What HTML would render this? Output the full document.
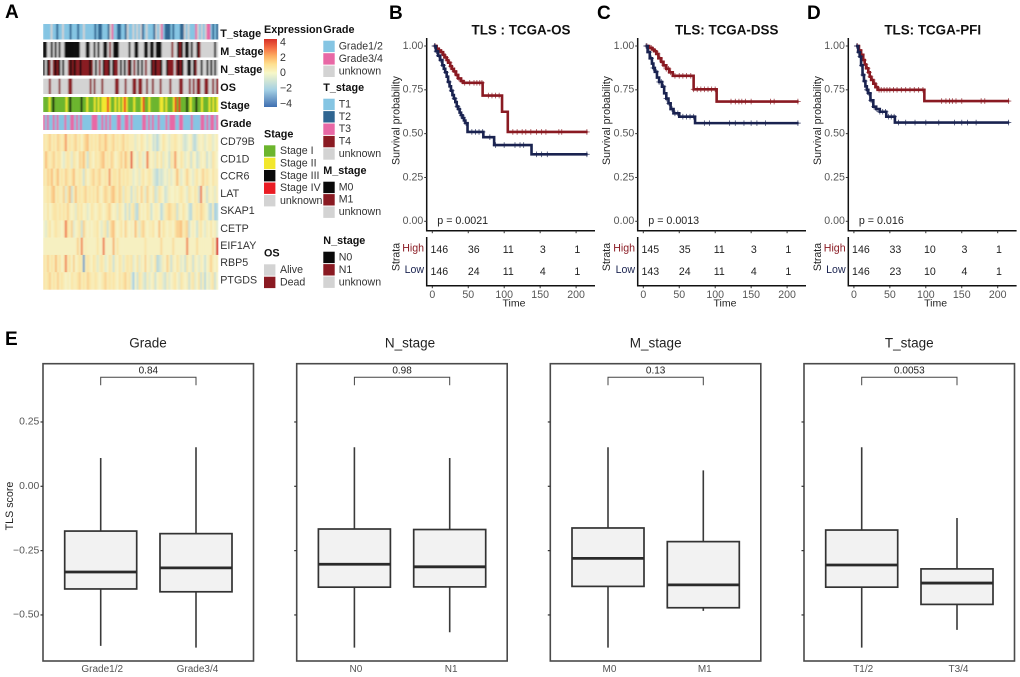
<!DOCTYPE html>
<html lang="en">
<head>
<meta charset="utf-8">
<title>TLS score figure</title>
<style>
html,body{margin:0;padding:0;background:#fff;}
svg{display:block;font-family:"Liberation Sans",sans-serif;}
.leg{font-size:10.6px;fill:#333;dominant-baseline:middle;}
.legt{font-size:10.8px;font-weight:bold;fill:#111;dominant-baseline:middle;}
.trk{font-size:10.8px;font-weight:bold;fill:#111;dominant-baseline:middle;}
.gene{font-size:10.7px;fill:#333;dominant-baseline:middle;}
.pl{font-size:19px;font-weight:bold;fill:#000;dominant-baseline:middle;}
</style>
</head>
<body>
<svg id="fig" xmlns="http://www.w3.org/2000/svg" width="1020" height="677" viewBox="0 0 1020 677">
<defs>
<filter id="soft" x="0" y="0" width="1" height="1"><feGaussianBlur stdDeviation="0.85 0"/></filter>
<linearGradient id="exprGrad" x1="0" y1="0" x2="0" y2="1">
<stop offset="0" stop-color="#d73027"/><stop offset="0.13" stop-color="#f46d43"/><stop offset="0.25" stop-color="#fdae61"/><stop offset="0.37" stop-color="#fee090"/><stop offset="0.5" stop-color="#f7f7c8"/><stop offset="0.75" stop-color="#a4d0e4"/><stop offset="1" stop-color="#3f6fb0"/>
</linearGradient>
</defs>
<rect width="1020" height="677" fill="#fff"/>

<text class="pl" x="5" y="13">A</text>
<text class="pl" x="389" y="14">B</text>
<text class="pl" x="597" y="14">C</text>
<text class="pl" x="807" y="14">D</text>
<text class="pl" x="5" y="340">E</text>

<g id="heatStrips" filter="url(#soft)"></g>

<g>
<text class="trk" x="220.3" y="34">T_stage</text>
<text class="trk" x="220.3" y="52">M_stage</text>
<text class="trk" x="220.3" y="70">N_stage</text>
<text class="trk" x="220.3" y="88">OS</text>
<text class="trk" x="220.3" y="106">Stage</text>
<text class="trk" x="220.3" y="124">Grade</text>
</g>
<g>
<text class="gene" x="220.3" y="142.3">CD79B</text>
<text class="gene" x="220.3" y="159.7">CD1D</text>
<text class="gene" x="220.3" y="176.7">CCR6</text>
<text class="gene" x="220.3" y="194">LAT</text>
<text class="gene" x="220.3" y="211.3">SKAP1</text>
<text class="gene" x="220.3" y="229">CETP</text>
<text class="gene" x="220.3" y="246">EIF1AY</text>
<text class="gene" x="220.3" y="263.3">RBP5</text>
<text class="gene" x="220.3" y="280.7">PTGDS</text>
</g>

<g>
<text class="legt" x="264" y="30">Expression</text>
<rect x="264" y="39" width="13" height="68" fill="url(#exprGrad)"/>
<text class="leg" x="280" y="42.7">4</text>
<text class="leg" x="280" y="58">2</text>
<text class="leg" x="280" y="73">0</text>
<text class="leg" x="280" y="88.7">−2</text>
<text class="leg" x="280" y="104">−4</text>
</g>

<g>
<text class="legt" x="323.3" y="30">Grade</text>
<rect x="323.3" y="40.7" width="11.4" height="11.4" fill="#85c5e3"/><text class="leg" x="338.7" y="46.7">Grade1/2</text>
<rect x="323.3" y="53.2" width="11.4" height="11.4" fill="#e868a5"/><text class="leg" x="338.7" y="59">Grade3/4</text>
<rect x="323.3" y="65.6" width="11.4" height="11.4" fill="#d3d3d3"/><text class="leg" x="338.7" y="71.5">unknown</text>
</g>
<g>
<text class="legt" x="323.3" y="88">T_stage</text>
<rect x="323.3" y="98.7" width="11.4" height="11.4" fill="#85c5e3"/><text class="leg" x="338.7" y="104.7">T1</text>
<rect x="323.3" y="111.1" width="11.4" height="11.4" fill="#2f6591"/><text class="leg" x="338.7" y="117">T2</text>
<rect x="323.3" y="123.5" width="11.4" height="11.4" fill="#e868a5"/><text class="leg" x="338.7" y="129.4">T3</text>
<rect x="323.3" y="135.9" width="11.4" height="11.4" fill="#8a1a22"/><text class="leg" x="338.7" y="141.8">T4</text>
<rect x="323.3" y="148.3" width="11.4" height="11.4" fill="#d3d3d3"/><text class="leg" x="338.7" y="154.2">unknown</text>
</g>
<g>
<text class="legt" x="323.3" y="171">M_stage</text>
<rect x="323.3" y="181.7" width="11.4" height="11.4" fill="#0a0a0a"/><text class="leg" x="338.7" y="187.5">M0</text>
<rect x="323.3" y="194.1" width="11.4" height="11.4" fill="#8a1a22"/><text class="leg" x="338.7" y="199.9">M1</text>
<rect x="323.3" y="206.5" width="11.4" height="11.4" fill="#d3d3d3"/><text class="leg" x="338.7" y="212.4">unknown</text>
</g>
<g>
<text class="legt" x="323.3" y="241.3">N_stage</text>
<rect x="323.3" y="251.7" width="11.4" height="11.4" fill="#0a0a0a"/><text class="leg" x="338.7" y="257.6">N0</text>
<rect x="323.3" y="264.1" width="11.4" height="11.4" fill="#8a1a22"/><text class="leg" x="338.7" y="270">N1</text>
<rect x="323.3" y="276.5" width="11.4" height="11.4" fill="#d3d3d3"/><text class="leg" x="338.7" y="282.5">unknown</text>
</g>
<g>
<text class="legt" x="264" y="134.7">Stage</text>
<rect x="264" y="145.3" width="11.4" height="11.4" fill="#6cb52d"/><text class="leg" x="280" y="151.2">Stage I</text>
<rect x="264" y="157.7" width="11.4" height="11.4" fill="#f2e72d"/><text class="leg" x="280" y="163.6">Stage II</text>
<rect x="264" y="170" width="11.4" height="11.4" fill="#0a0a0a"/><text class="leg" x="280" y="176">Stage III</text>
<rect x="264" y="182.5" width="11.4" height="11.4" fill="#ea1c24"/><text class="leg" x="280" y="188.4">Stage IV</text>
<rect x="264" y="195" width="11.4" height="11.4" fill="#d3d3d3"/><text class="leg" x="280" y="201">unknown</text>
</g>
<g>
<text class="legt" x="264" y="253.7">OS</text>
<rect x="264" y="264.3" width="11.4" height="11.4" fill="#d3d3d3"/><text class="leg" x="280" y="270.2">Alive</text>
<rect x="264" y="276.7" width="11.4" height="11.4" fill="#8a1a22"/><text class="leg" x="280" y="282.6">Dead</text>
</g>

<g id="kmRoot"></g>
<g id="boxRoot"></g>
</svg>

<script>
// ---------- Panel A: annotation tracks (one character per sample column) ----------
const trackTStage = "1111u11211u1112111211u1111121221112u31122112u1"+"1u1u1u21u1112u1u312221211122u1u1113u1u1u331212";
const trackMStage = "00uu0u0u0uu00000000uuu00uu0u0uu00u1u000uuuuu0"+"uu00uuu00u00u000uuuuu1uu010u00u0uu01uuuuuuu0u";
const trackNStage = "0u01u1010u0uu1010110111101u0u1u0110u011u0u0u1"+"0u1u0u0u1uu010110uu0111u1010uu00u01uu0uu0u0u0u";
const trackOS     = "aaadaaaadaaaaddaaaaaaaaadadaaadaaaaaaddaaadaa"+"addaddaadaadaaadaaaadaaaaddaaadadaddaaddaadad";
const trackStage  = "11121311111121311111311211121212224211212124211"+"1211124112111112212111241411131211311211121212";
const trackGrade  = "313113131113113313131111133311313131113311331"+"311111331313113111313331133111131111331313313";

// ---------- Panel A: expression z-scores per gene ----------
const exprCD79B = [1,.5,1,1.5,.5,1,.5,1.5,1,.5,1,2.5,.5,1,.5,1,1.5,.5,1,0,1,1.5,2,.5,1,.5,1,.5,1.5,1,1,2,1,.5,1,1.5,.5,1,.5,1,1.5,.5,1,.5,.5,.5,-.5,.5,0,1,.5,0,-.5,.5,0,-1,-.5,-1.5,-.5,0,1,.5,0,-.5,.5,.5,1,.5,0,.5,-.5,-1,-.5,0,.5,-1,-1.5,-.5,.5,0,.5,-.5,0,.5,.5,-.5,0,.5];
const exprCD1D = [.5,2,1,.5,1,1.5,.5,1,1,0,-.5,.5,1,.5,-.5,1,.5,0,1.5,1,2,.5,-1,1,.5,0,1,.5,1,1.5,2,.5,1,.5,1.5,1,0,.5,1,1.5,.5,2,1,.5,3.4,.5,0,-.5,1,.5,-.5,0,3,.5,0,.5,-.5,1,0,1,-.5,.5,0,-1,1,.5,2.5,.5,0,1,.5,-.5,0,.5,-1,.5,0,-1,-.5,.5,0,.5,-1,0,-.5,1,.5,0];
const exprCCR6 = [1,.5,1.5,1,2,.5,1,2,.5,1,.5,1.5,1,.5,1,2,.5,.5,1,.5,-1,1,0,.5,1,1.5,.5,1,1.5,.5,.5,1,.5,2.5,.5,1,1,.5,1.5,.5,1,.5,1,.5,.5,-.5,0,.5,-.5,.5,1,0,.5,1,.5,-.5,-1,-1.5,-.5,-1,-.5,0,-.5,.5,-.5,0,.5,2,.5,-.5,0,.5,1.5,.5,0,-.5,.5,1,0,.5,1.5,.5,1,.5,0,1,.5,.5];
const exprLAT = [.5,.5,1,.5,1.5,2,.5,1,.5,.5,1.5,-.5,1,2,-1,.5,2,.5,1,.5,1,1.5,.5,1,.5,1,.5,1.5,.5,0,1,1.5,1,.5,1.5,2,1,.5,1.5,1,-.5,1,.5,.5,-1,.5,-.5,1,0,1.5,.5,-.5,1.5,.5,0,1,-1,-.5,1,.5,0,-1,-.5,.5,0,0,.5,0,.5,1,.5,0,-.5,1,.5,0,1,.5,-1,3,0,.5,-1,.5,0,.5,-.5,.5];
const exprSKAP1 = [.5,0,1,0,.5,1,1,.5,1,.5,1,.5,1.5,.5,0,.5,-.5,1,.5,1,0,.5,-.5,0,1,.5,0,.5,1,.5,0,.5,1,1.5,.5,0,.5,-.5,1,.5,0,-1,.5,-1,.5,1,-1,-1.5,1,0,.5,0,1,.5,-1,0,.5,.5,0,-1.5,-.5,.5,1,1.5,1,.5,1,-1,.5,0,1,.5,0,-1,-1.5,.5,.5,1,.5,1.5,1,.5,0,-1,-1.5,.5,-2,-1.5];
const exprCETP = [0,-.5,.5,1,0,.5,1,.5,.5,0,.5,3,1,.5,1.5,-.5,0,.5,1,-1,1.5,.5,0,.5,0,.5,.5,1,0,-.5,.5,1,-1,.5,1.5,2,.5,0,.5,1,0,1.5,.5,0,.5,0,2,.5,-.5,1,1.5,.5,0,.5,.5,1,0,0,2,0,1,.5,0,.5,.5,0,1,1.5,1.5,2,.5,1,1.5,-1,0,.5,0,-1,.5,1,0,-.5,.5,0,1,0,.5,-.5];
const exprEIF1AY = [.2,.2,.2,.2,.2,.2,.2,.2,.2,.2,.2,.2,.2,.2,.2,.2,.2,1.5,.2,2.8,.2,.5,.2,.2,.2,.2,.2,1,.2,.2,3,.2,.2,.2,.2,2.2,.2,1,.2,.2,.2,.2,.2,.2,.2,.2,.2,.2,.2,.2,.2,1,.2,.2,.2,.2,.2,.2,.2,1.3,.2,.2,.2,.2,.2,1.2,.2,.2,.2,.2,.2,.2,2.8,.2,.2,.2,.2,1.2,.2,.2,.2,.2,.2,.2,.2,1.5,.2,4];
const exprRBP5 = [1,.5,1.5,.5,1,.5,2,.5,1,0,.5,2.8,.5,1,0,1.5,0,.5,1,.5,-3,.5,1,.5,0,1,.5,-.5,.5,1,.5,-.5,0,1,.5,-1,.5,0,1,.5,-.5,.5,1,.5,1,-.5,0,1,-.5,.5,0,1.5,0,.5,-.5,0,1,-1.5,-1,-.5,.5,0,1.5,.5,-1,.5,0,1,.5,-.5,0,-1,1,0,.5,-1,.5,0,-.5,.5,0,-1,0,.5,1.5,.5,0,.5];
const exprPTGDS = [1,.5,1,1.5,.5,1,.5,1.5,.5,1,.5,0,.5,0,1,.5,.5,1,1.5,.5,1,.5,1.5,1,.5,.5,1,.5,0,.5,1,1.5,.5,1,.5,1,.5,0,1,.5,1,1.5,.5,1,-.5,-2,0,-1,1,.5,-.5,-1,.5,-.5,0,.5,-1,0,.5,.5,-.5,-1,.5,-.5,0,.5,1,0,-.5,1,.5,0,.5,-1,.5,1,-.5,0,1,-1,.5,-1.5,0,-.5,.5,1,-1,0];

// ---------- Panels B-D: Kaplan-Meier series ----------
const kmTickTimes = [0,50,100,150,200];
const kmTickProbs = [1,0.75,0.5,0.25,0];
const kmTickProbLabels = ["1.00","0.75","0.50","0.25","0.00"];

const osHighTimes = [2,6,9,12,15,17,20,22,25,27,30,33,36,40,43,70,97,105,216];
const osHighSurv  = [1,.985,.975,.965,.95,.935,.92,.905,.885,.87,.855,.835,.815,.80,.79,.717,.625,.51,.51];
const osLowTimes  = [2,5,8,11,14,16,18,20,22,24,26,28,30,32,34,36,38,40,42,44,46,49,71,86,138,216];
const osLowSurv   = [1,.97,.945,.92,.89,.87,.85,.825,.795,.77,.745,.72,.70,.68,.655,.64,.62,.605,.59,.575,.56,.51,.48,.435,.382,.382];
const osHighCensor = [4,7,10,13,16,19,21,24,26,28,31,34,37,41,45,52,58,62,66,69,78,83,88,93,112,118,125,130,137,145,152,158,176,180,215];
const osLowCensor  = [3,6,9,12,15,19,23,27,31,35,37,41,43,47,55,60,65,70,80,88,100,115,122,127,145,152,160,215];
const osRiskHigh = [146,36,11,3,1];
const osRiskLow  = [146,24,11,4,1];

const dssHighTimes = [3,8,12,15,18,21,25,28,32,36,41,70,102,216];
const dssHighSurv  = [1,.99,.98,.97,.955,.93,.91,.89,.87,.85,.83,.753,.683,.683];
const dssLowTimes  = [3,6,9,12,14,16,19,22,26,29,32,35,38,42,50,72,216];
const dssLowSurv   = [1,.965,.93,.90,.875,.853,.82,.795,.768,.73,.70,.673,.64,.616,.597,.56,.56];
const dssHighCensor = [5,8,11,14,17,20,23,26,29,32,35,38,44,50,55,60,66,70,75,80,85,90,95,100,122,128,133,137,142,150,177,182,215];
const dssLowCensor  = [4,8,11,14,18,22,25,28,32,36,40,44,48,55,60,65,70,85,92,120,128,140,150,158,170,215];
const dssRiskHigh = [145,35,11,3,1];
const dssRiskLow  = [143,24,11,4,1];

const pfiHighTimes = [3,7,10,13,15,17,20,22,24,27,30,33,98,216];
const pfiHighSurv  = [1,.975,.95,.92,.895,.873,.85,.825,.806,.785,.765,.75,.686,.686];
const pfiLowTimes  = [3,6,8,10,12,14,16,18,20,23,27,31,36,45,57,216];
const pfiLowSurv   = [1,.965,.94,.89,.835,.80,.77,.75,.73,.69,.654,.64,.625,.597,.563,.563];
const pfiHighCensor = [5,8,11,14,16,19,21,23,26,29,32,35,38,42,46,50,55,60,66,72,78,84,90,96,122,128,133,137,142,150,177,182,215];
const pfiLowCensor  = [4,7,9,11,13,15,18,21,24,28,32,36,40,44,48,52,56,62,72,85,100,118,140,150,158,170,215];
const pfiRiskHigh = [146,33,10,3,1];
const pfiRiskLow  = [146,23,10,4,1];

// ---------- Panel E: box plot statistics ----------
const boxTickValues = [0.25,0,-0.25,-0.5];
const boxTickLabels = ["0.25","0.00","−0.25","−0.50"];

const gradeCategories = ["Grade1/2","Grade3/4"];
const gradeUpper  = [0.11,0.152];
const gradeQ3     = [-0.174,-0.184];
const gradeMedian = [-0.333,-0.317];
const gradeQ1     = [-0.399,-0.41];
const gradeLower  = [-0.62,-0.627];

const nStageCategories = ["N0","N1"];
const nStageUpper  = [0.152,0.11];
const nStageQ3     = [-0.166,-0.168];
const nStageMedian = [-0.303,-0.313];
const nStageQ1     = [-0.392,-0.391];
const nStageLower  = [-0.627,-0.567];

const mStageCategories = ["M0","M1"];
const mStageUpper  = [0.152,0.062];
const mStageQ3     = [-0.162,-0.215];
const mStageMedian = [-0.28,-0.383];
const mStageQ1     = [-0.389,-0.472];
const mStageLower  = [-0.627,-0.484];

const tStageCategories = ["T1/2","T3/4"];
const tStageUpper  = [0.152,-0.123];
const tStageQ3     = [-0.17,-0.321];
const tStageMedian = [-0.306,-0.376];
const tStageQ1     = [-0.392,-0.459];
const tStageLower  = [-0.627,-0.558];

// ---------- helpers ----------
const NS = "http://www.w3.org/2000/svg";
function mk(parent, tag, attrs, txt){
  const e = document.createElementNS(NS, tag);
  for (const k in attrs) e.setAttribute(k, attrs[k]);
  if (txt !== undefined) e.textContent = txt;
  parent.appendChild(e);
  return e;
}
function hex(c){ return [parseInt(c.slice(1,3),16),parseInt(c.slice(3,5),16),parseInt(c.slice(5,7),16)]; }
const exprStopZ = [-4,-2,0,1,2,3,4];
const exprStopC = ["#3f6fb0","#a4d0e4","#f5f3c8","#fae4a6","#f9c07e","#ef7a50","#d73027"];
function exprColor(z){
  const v = Math.max(-4, Math.min(4, z));
  for (let i = 0; i < exprStopZ.length - 1; i++){
    if (v <= exprStopZ[i+1]){
      const f = (v - exprStopZ[i]) / (exprStopZ[i+1] - exprStopZ[i]);
      const a = hex(exprStopC[i]), b = hex(exprStopC[i+1]);
      return "rgb(" + a.map((p,j) => Math.round(p + (b[j]-p)*f)).join(",") + ")";
    }
  }
  return exprStopC[exprStopC.length-1];
}

// ---------- Panel A draw ----------
const heatRoot = document.getElementById("heatStrips");
const heatLeft = 43, heatWidth = 175;
const tStageColors = {"1":"#85c5e3","2":"#2f6591","3":"#e868a5","4":"#8a1a22","u":"#d3d3d3"};
const binaryColors = {"0":"#0a0a0a","1":"#8a1a22","u":"#d3d3d3"};
const osColors = {"a":"#d3d3d3","d":"#8a1a22"};
const stageColors = {"1":"#6cb52d","2":"#f2e72d","3":"#0a0a0a","4":"#ea1c24","u":"#d3d3d3"};
const gradeColors = {"1":"#85c5e3","3":"#e868a5","u":"#d3d3d3"};
function drawTrack(values, colors, top, h, name){
  const w = heatWidth / values.length;
  for (let i = 0; i < values.length; i++){
    const c = mk(heatRoot, "rect", {x:heatLeft+i*w, y:top, width:w+0.3, height:h, fill:colors[values[i]]});
    
    
  }
}
drawTrack(trackTStage, tStageColors, 24, 15.5, "t-stage");
drawTrack(trackMStage, binaryColors, 42, 15.5, "m-stage");
drawTrack(trackNStage, binaryColors, 60, 15.5, "n-stage");
drawTrack(trackOS, osColors, 78.7, 15.3, "os");
drawTrack(trackStage, stageColors, 97, 15, "stage");
drawTrack(trackGrade, gradeColors, 115, 15, "grade");
const heatRows = [exprCD79B,exprCD1D,exprCCR6,exprLAT,exprSKAP1,exprCETP,exprEIF1AY,exprRBP5,exprPTGDS];
const heatTop = 134, rowH = 155.5/9;
heatRows.forEach((row, r) => {
  const w = heatWidth / row.length;
  row.forEach((z, i) => {
    const c = mk(heatRoot, "rect", {x:heatLeft+i*w, y:heatTop+r*rowH, width:w+0.3, height:rowH+0.2, fill:exprColor(z)});
    
    
  });
});

// ---------- Panels B-D draw ----------
const kmRoot = document.getElementById("kmRoot");
const HIGH = "#8a1a22", LOW = "#1a2350";
function survAt(times, surv, t){
  let s = surv[0];
  for (let i = 0; i < times.length; i++){ if (times[i] <= t) s = surv[i]; }
  return s;
}
function drawKM(p){
  const g = mk(kmRoot, "g", {});
  
  
  const ax = p.axisX;
  const x = t => ax + 5.6 + t * 0.719;
  const y = s => 221.3 - s * 175.3;
  const rx = t => ax + 12.6 + t * 0.69;
  const t0 = mk(g, "text", {x:p.titleX, y:31, "text-anchor":"middle", "dominant-baseline":"middle", "font-size":"13.4", "font-weight":"bold", fill:"#111"}, p.title);
  
  
  function series(times, surv, cens, col, nm){
    let d = "M" + x(times[0]) + " " + y(surv[0]);
    for (let i = 1; i < times.length; i++){
      d += "H" + x(times[i]) + "V" + y(surv[i]);
    }
    const l = mk(g, "path", {d:d, fill:"none", stroke:col, "stroke-width":"2.6"});
    
    
    cens.forEach(t => {
      const cx = x(t), cy = y(survAt(times, surv, t));
      const m = mk(g, "path", {d:"M"+(cx-2.8)+" "+cy+"H"+(cx+2.8)+"M"+cx+" "+(cy-2.8)+"V"+(cy+2.8), fill:"none", stroke:col, "stroke-width":"0.9", "stroke-opacity":"0.75"});
      
      
    });
  }
  series(p.highT, p.highS, p.highC, HIGH, "high");
  series(p.lowT, p.lowS, p.lowC, LOW, "low");
  const ya = mk(g, "path", {d:"M"+ax+" 38V230.7H"+(ax+168.3), fill:"none", stroke:"#111", "stroke-width":"1.5"});
  
  
  kmTickProbs.forEach((v, i) => {
    const k = mk(g, "path", {d:"M"+(ax-2.5)+" "+y(v)+"H"+ax, stroke:"#333", "stroke-width":"1"});
    
    
    const lb = mk(g, "text", {x:ax-3.4, y:y(v), "text-anchor":"end", "dominant-baseline":"middle", "font-size":"10.6", fill:"#555"}, kmTickProbLabels[i]);
    
    
  });
  kmTickTimes.forEach(t => {
    const k = mk(g, "path", {d:"M"+x(t)+" 230.7v2.5", stroke:"#333", "stroke-width":"1"});
    
    
    const k2 = mk(g, "path", {d:"M"+x(t)+" 285.7v2.5", stroke:"#333", "stroke-width":"1"});
    
    
    const lb = mk(g, "text", {x:x(t), y:295, "text-anchor":"middle", "dominant-baseline":"middle", "font-size":"10.6", fill:"#555"}, String(t));
    
    
  });
  const sp = mk(g, "text", {transform:"translate("+p.labelX+" 120.5) rotate(-90)", "text-anchor":"middle", "dominant-baseline":"middle", "font-size":"10.6", fill:"#222"}, "Survival probability");
  
  
  const pv = mk(g, "text", {x:ax+10.6, y:221.3, "dominant-baseline":"middle", "font-size":"10.7", fill:"#222"}, p.pText);
  
  
  const ra = mk(g, "path", {d:"M"+ax+" 237V285.7H"+(ax+168.3), fill:"none", stroke:"#111", "stroke-width":"1.5"});
  
  
  const st = mk(g, "text", {transform:"translate("+p.labelX+" 257) rotate(-90)", "text-anchor":"middle", "dominant-baseline":"middle", "font-size":"10.6", fill:"#222"}, "Strata");
  
  
  const hi = mk(g, "text", {x:ax-2.7, y:248.5, "text-anchor":"end", "dominant-baseline":"middle", "font-size":"10.6", fill:HIGH}, "High");
  
  
  const lo = mk(g, "text", {x:ax-2.7, y:270, "text-anchor":"end", "dominant-baseline":"middle", "font-size":"10.6", fill:LOW}, "Low");
  
  
  kmTickTimes.forEach((t, i) => {
    const a = mk(g, "text", {x:rx(t), y:250, "text-anchor":"middle", "dominant-baseline":"middle", "font-size":"10.6", fill:"#222"}, String(p.riskH[i]));
    
    
    const b = mk(g, "text", {x:rx(t), y:272, "text-anchor":"middle", "dominant-baseline":"middle", "font-size":"10.6", fill:"#222"}, String(p.riskL[i]));
    
    
  });
  const tm = mk(g, "text", {x:ax+87.3, y:303.6, "text-anchor":"middle", "dominant-baseline":"middle", "font-size":"10.5", fill:"#222"}, "Time");
  
  
}
drawKM({name:"km-panel-os", title:"TLS : TCGA-OS", titleX:521, axisX:426.7, labelX:396.7, pText:"p = 0.0021",
  highT:osHighTimes, highS:osHighSurv, highC:osHighCensor, lowT:osLowTimes, lowS:osLowSurv, lowC:osLowCensor, riskH:osRiskHigh, riskL:osRiskLow});
drawKM({name:"km-panel-dss", title:"TLS: TCGA-DSS", titleX:726.7, axisX:637.7, labelX:607.3, pText:"p = 0.0013",
  highT:dssHighTimes, highS:dssHighSurv, highC:dssHighCensor, lowT:dssLowTimes, lowS:dssLowSurv, lowC:dssLowCensor, riskH:dssRiskHigh, riskL:dssRiskLow});
drawKM({name:"km-panel-pfi", title:"TLS: TCGA-PFI", titleX:932.7, axisX:848.3, labelX:818, pText:"p = 0.016",
  highT:pfiHighTimes, highS:pfiHighSurv, highC:pfiHighCensor, lowT:pfiLowTimes, lowS:pfiLowSurv, lowC:pfiLowCensor, riskH:pfiRiskHigh, riskL:pfiRiskLow});

// ---------- Panel E draw ----------
const boxRoot = document.getElementById("boxRoot");
const boxY = v => 486.3 - v * 257.3;
function drawBox(p){
  const g = mk(boxRoot, "g", {});
  
  
  const L = p.left, W = 210.5, T = 363.7, B = 661;
  const t = mk(g, "text", {x:p.titleX, y:344, "text-anchor":"middle", "dominant-baseline":"middle", "font-size":"13.5", fill:"#222"}, p.title);
  
  
  const centers = [L + 57.7, L + 153];
  p.cats.forEach((cat, i) => {
    const cx = centers[i];
    const w = mk(g, "path", {d:"M"+cx+" "+boxY(p.upper[i])+"V"+boxY(p.q3[i])+"M"+cx+" "+boxY(p.q1[i])+"V"+boxY(p.lower[i]), stroke:"#3a3a3a", "stroke-width":"1.6", fill:"none"});
    
    
    const r = mk(g, "rect", {x:cx-36, y:boxY(p.q3[i]), width:72, height:boxY(p.q1[i])-boxY(p.q3[i]), fill:"#f2f2f2", stroke:"#333", "stroke-width":"1.7"});
    
    
    const m = mk(g, "path", {d:"M"+(cx-36)+" "+boxY(p.median[i])+"H"+(cx+36), stroke:"#2a2a2a", "stroke-width":"2.8"});
    
    
    const c = mk(g, "text", {x:cx+1.5, y:669.3, "text-anchor":"middle", "dominant-baseline":"middle", "font-size":"10", fill:"#555"}, cat);
    
    
  });
  const f = mk(g, "rect", {x:L, y:T, width:W, height:B-T, fill:"none", stroke:"#4a4a4a", "stroke-width":"1.6"});
  
  
  const br = mk(g, "path", {d:"M"+centers[0]+" 385.3V377.3H"+centers[1]+"V385.3", fill:"none", stroke:"#444", "stroke-width":"1"});
  
  
  const pv = mk(g, "text", {x:(centers[0]+centers[1])/2, y:371, "text-anchor":"middle", "dominant-baseline":"middle", "font-size":"10", fill:"#222"}, p.pText);
  
  
  boxTickValues.forEach((v, i) => {
    const k = mk(g, "path", {d:"M"+(L-2.5)+" "+boxY(v)+"H"+L, stroke:"#333", "stroke-width":"1.2"});
    
    
    if (p.showLabels){
      const lb = mk(g, "text", {x:L-3.7, y:boxY(v), "text-anchor":"end", "dominant-baseline":"middle", "font-size":"10.4", fill:"#555"}, boxTickLabels[i]);
      
      
    }
  });
}
drawBox({name:"boxplot-grade", title:"Grade", titleX:148, left:43, showLabels:true, pText:"0.84",
  cats:gradeCategories, upper:gradeUpper, q3:gradeQ3, median:gradeMedian, q1:gradeQ1, lower:gradeLower});
drawBox({name:"boxplot-n-stage", title:"N_stage", titleX:410, left:296.7, showLabels:false, pText:"0.98",
  cats:nStageCategories, upper:nStageUpper, q3:nStageQ3, median:nStageMedian, q1:nStageQ1, lower:nStageLower});
drawBox({name:"boxplot-m-stage", title:"M_stage", titleX:655.7, left:550.3, showLabels:false, pText:"0.13",
  cats:mStageCategories, upper:mStageUpper, q3:mStageQ3, median:mStageMedian, q1:mStageQ1, lower:mStageLower});
drawBox({name:"boxplot-t-stage", title:"T_stage", titleX:909.3, left:804, showLabels:false, pText:"0.0053",
  cats:tStageCategories, upper:tStageUpper, q3:tStageQ3, median:tStageMedian, q1:tStageQ1, lower:tStageLower});
const yt = mk(boxRoot, "text", {transform:"translate(10 506) rotate(-90)", "text-anchor":"middle", "dominant-baseline":"middle", "font-size":"10.7", fill:"#222"}, "TLS score");


</script>
</body>
</html>
